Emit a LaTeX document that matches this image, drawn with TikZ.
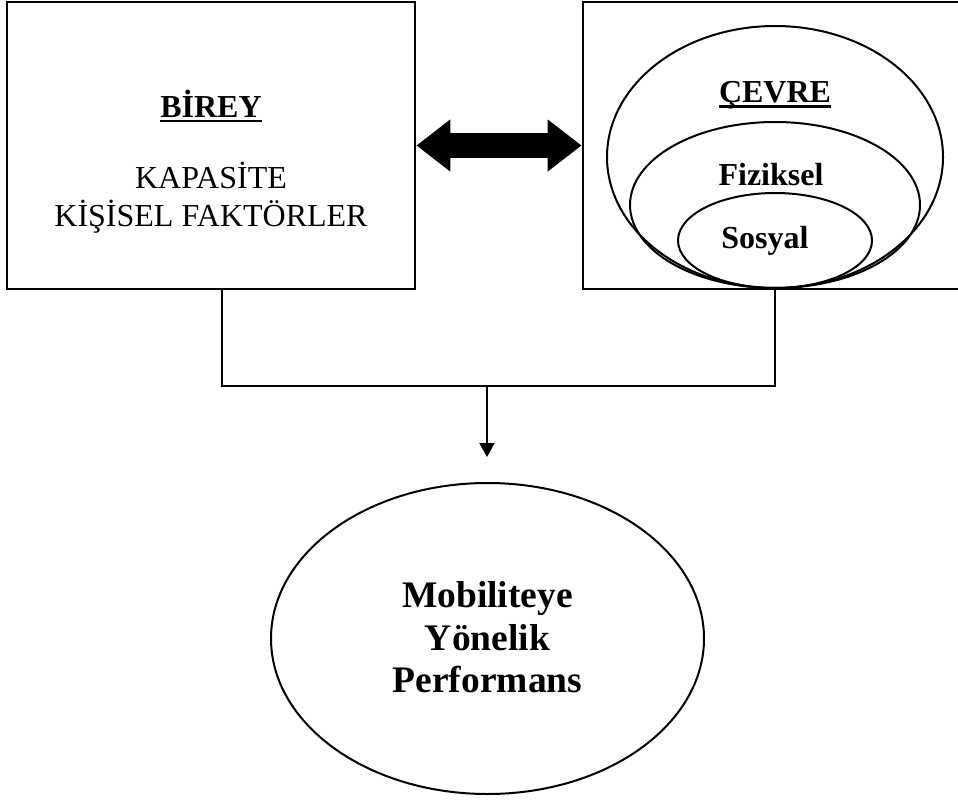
\documentclass[tikz,border=0pt]{standalone}
\usepackage{fontspec}
\setmainfont{Liberation Serif}
\usetikzlibrary{shapes.geometric,arrows.meta}
\tikzset{
  boxnode/.style={draw,line width=2.8pt,inner sep=0pt,minimum width=#1,minimum height=287pt},
  ell/.style={draw,ellipse,line width=2pt,inner sep=0pt},
  txt/.style={anchor=base,inner sep=0pt,align=center},
  link/.style={line width=2.3pt},
  uline/.style={line width=2.6pt},
}
\begin{document}
\begin{tikzpicture}[x=1pt,y=-1pt]
\useasboundingbox (0,0) rectangle (958,800);
% boxes
\node[boxnode=408pt] (birey) at (211,145.5) {};
\node[boxnode=380pt] (cevre) at (773,145.5) {};
% ellipses in right box
\node[ell,minimum width=336pt,minimum height=262pt] (outer) at (775,157) {};
\node[ell,minimum width=290pt,minimum height=166pt] (fiz) at (775,205) {};
\node[ell,minimum width=194pt,minimum height=95pt] (sos) at (775,240.5) {};
% texts left box
\node[txt,font=\fontsize{32}{32}\selectfont\bfseries] (t1) at (211,117) {BİREY};
\draw[uline] ([yshift=-4pt]t1.base west) -- ([yshift=-4pt]t1.base east);
\node[txt,font=\fontsize{32}{32}\selectfont] (t2) at (211,188) {KAPASİTE};
\node[txt,font=\fontsize{32}{32}\selectfont] (t3) at (211,226) {KİŞİSEL FAKTÖRLER};
% texts right box
\node[txt,font=\fontsize{32}{32}\selectfont\bfseries] (t4) at (775,102) {ÇEVRE};
\draw[uline] ([yshift=-4.5pt]t4.base west) -- ([yshift=-4.5pt]t4.base east);
\node[txt,font=\fontsize{32}{32}\selectfont\bfseries] (t5) at (771,185) {Fiziksel};
\node[txt,font=\fontsize{32}{32}\selectfont\bfseries] (t6) at (765,248) {Sosyal};
% double arrow
\draw[line width=25pt,{Triangle[length=34pt,width=50pt]}-{Triangle[length=34pt,width=50pt]}] (birey.east) -- (cevre.west);
% connectors
\coordinate (jl) at (222,386);
\coordinate (jr) at (775,386);
\coordinate (jm) at (487,386);
\coordinate (tip) at (487,457);
\draw[link] (birey.south -| jl) -- (jl) -- (jr) -- (cevre.south -| jr);
\draw[link,-{Triangle[length=14pt,width=15pt]}] (jm) -- (tip);
% bottom ellipse
\node[ell,minimum width=433pt,minimum height=311pt] (perf) at (487.5,638.5) {};
\node[txt,font=\fontsize{37.5}{43}\selectfont\bfseries] (t7) at (487.5,607) {Mobiliteye};
\node[txt,font=\fontsize{37.5}{43}\selectfont\bfseries] (t8) at (487.5,650) {Yönelik};
\node[txt,font=\fontsize{37.5}{43}\selectfont\bfseries] (t9) at (487.5,692) {Performans};
\end{tikzpicture}
\end{document}
